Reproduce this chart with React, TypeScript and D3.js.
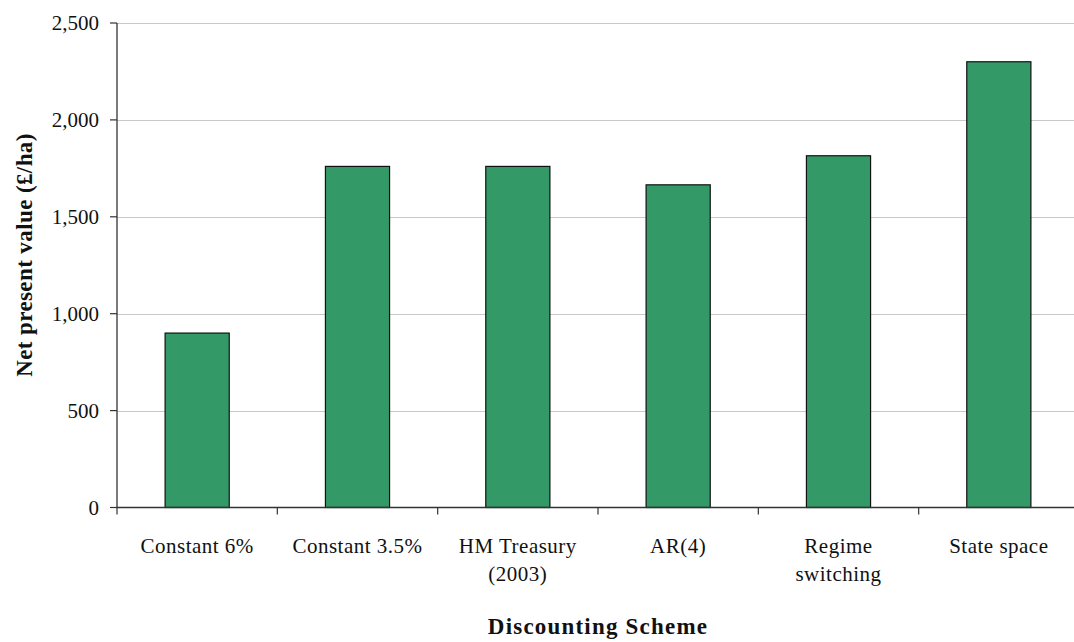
import React from "react";
import * as d3 from "d3";

// Net present value by discounting scheme
const categories = [
  "Constant 6%",
  "Constant 3.5%",
  "HM Treasury\n(2003)",
  "AR(4)",
  "Regime\nswitching",
  "State space",
];
const npvValues = [900, 1760, 1760, 1665, 1815, 2300];
const yTicks = [0, 500, 1000, 1500, 2000, 2500];

const W = 1074;
const H = 642;
const left = 117;
const right = 1079;
const top = 23;
const bottom = 507.5;
const FONT = "'Liberation Serif', 'DejaVu Serif', serif";

export default function App() {
  const x = d3
    .scaleBand<string>()
    .domain(categories)
    .range([left, right])
    .paddingInner(0.6)
    .paddingOuter(0.3);
  const step = (right - left) / categories.length;
  const y = d3.scaleLinear().domain([0, 2500]).range([bottom, top]);
  const fmt = d3.format(",");

  return (
    <svg
      width={W}
      height={H}
      style={{ position: "absolute", left: 0, top: 0, background: "#fff" }}
    >
      {/* gridlines */}
      {yTicks.slice(1).map((t) => (
        <line
          key={"g" + t}
          x1={left}
          x2={W}
          y1={Math.round(y(t)) + 0.5}
          y2={Math.round(y(t)) + 0.5}
          stroke="#c8c8c8"
          strokeWidth={1}
        />
      ))}
      {/* bars */}
      {categories.map((c, i) => (
        <rect
          key={c}
          x={x(c)!}
          y={y(npvValues[i])}
          width={x.bandwidth()}
          height={y(0) - y(npvValues[i])}
          fill="#339966"
          stroke="#111"
          strokeWidth={1.2}
        />
      ))}
      {/* y axis */}
      <line x1={left} x2={left} y1={top} y2={bottom} stroke="#333" strokeWidth={1.3} />
      {yTicks.map((t) => (
        <g key={"t" + t}>
          <line x1={left - 7} x2={left} y1={y(t)} y2={y(t)} stroke="#333" strokeWidth={1.2} />
          <text
            x={99}
            y={y(t) + 7}
            textAnchor="end"
            fontFamily={FONT}
            fontSize={21}
            fill="#111"
          >
            {fmt(t)}
          </text>
        </g>
      ))}
      {/* x axis */}
      <line x1={left} x2={W} y1={bottom} y2={bottom} stroke="#333" strokeWidth={1.3} />
      {d3.range(categories.length).map((i) => (
        <line
          key={"xt" + i}
          x1={left + i * step}
          x2={left + i * step}
          y1={bottom}
          y2={bottom + 7}
          stroke="#333"
          strokeWidth={1.2}
        />
      ))}
      {categories.map((c) => (
        <text
          key={"l" + c}
          textAnchor="middle"
          fontFamily={FONT}
          fontSize={21}
          letterSpacing={0.5}
          fill="#111"
        >
          {c.split("\n").map((line, j) => (
            <tspan key={j} x={x(c)! + x.bandwidth() / 2} y={553 + j * 28}>
              {line}
            </tspan>
          ))}
        </text>
      ))}
      {/* axis titles */}
      <text
        x={(left + right) / 2}
        y={634}
        textAnchor="middle"
        fontFamily={FONT}
        fontSize={23}
        fontWeight="bold"
        letterSpacing={1.2}
        fill="#111"
      >
        Discounting Scheme
      </text>
      <text
        transform={`translate(32, 255) rotate(-90)`}
        textAnchor="middle"
        fontFamily={FONT}
        fontSize={23}
        fontWeight="bold"
        letterSpacing={0.4}
        fill="#111"
      >
        Net present value (£/ha)
      </text>
    </svg>
  );
}
